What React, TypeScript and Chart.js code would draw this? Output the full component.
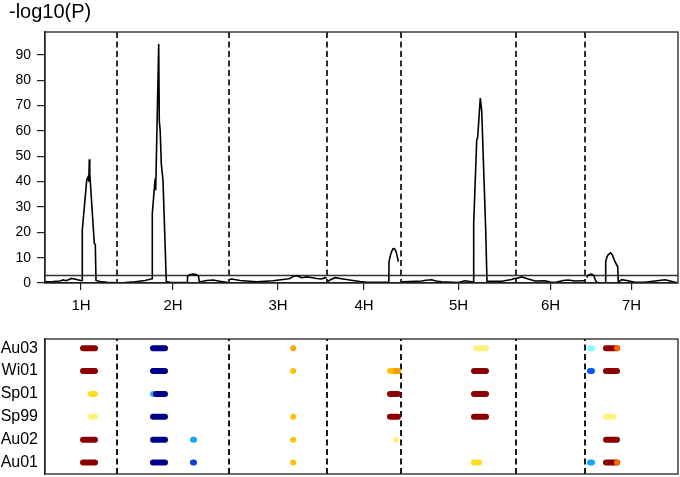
import React, { useEffect, useRef } from "react";
import { Chart, registerables } from "chart.js";

Chart.register(...registerables);

// ---------- data ----------
const chromosomes = ["1H", "2H", "3H", "4H", "5H", "6H", "7H"];
const chrLengths = [72, 112, 98, 74, 115, 69, 93];
const yTicks = [0, 10, 20, 30, 40, 50, 60, 70, 80, 90];
const yMax = 99;
const threshold = 3;
const yTitle = "-log10(P)";

// cumulative position, -log10(P)
const chr1H: [number, number][] = [
  [0, 0.5], [8, 0.6], [15, 0.8], [18.3, 1.2], [21, 0.9], [26.7, 1.8], [31.7, 1.4], [36.5, 0.9],
  [37.0, 1.0], [37.3, 20.9], [41.7, 40.5], [43.3, 42], [43.8, 40], [44.3, 48.8], [44.8, 43],
  [49.3, 15.7], [50.3, 15.2], [51, 1.0], [55, 0.6], [62, 0.3], [71.7, 0.1],
];
const chr2H: [number, number][] = [
  [72, 0.1], [80, 0.2], [90, 0.5], [100, 1.0], [106, 1.6], [107, 1.7], [107.3, 27.4],
  [109.7, 39.2], [110.7, 36.6], [113.7, 94.3], [114.3, 64], [115.2, 60], [116.3, 47], [118, 40.5],
  [121.3, 0.6], [125, 0.3], [132, 0.2], [142, 0.3], [142.5, 2.5], [144.5, 3.3], [148.3, 3.5],
  [151, 3.3], [153.5, 2.8], [154.3, 0.5], [158, 0.7], [161.7, 1.0], [168, 1.2], [175, 0.7],
  [181.7, 0.3], [184, 0.2],
];
const chr3H: [number, number][] = [
  [184.5, 1.4], [186.7, 1.6], [195, 1.0], [211.7, 0.5], [228, 0.9], [241.7, 1.6], [245, 1.8],
  [248, 2.6], [251.7, 2.9], [256.7, 2.1], [261.7, 2.4], [266, 2.2], [271.7, 1.8], [276.7, 1.6],
  [280, 2.1], [281.7, 2.0],
];
const chr4H: [number, number][] = [
  [282.5, 0.5], [285, 1.2], [290, 2.1], [298, 1.6], [308, 1.0], [315, 0.6], [322, 0.3],
  [330, 0.3], [343.8, 0.3], [344, 8.4], [345.5, 11], [346.7, 12.5], [348, 13.5], [349.5, 13.6],
  [351, 12.5], [352.5, 10], [353.3, 8.4],
];
const chr5H: [number, number][] = [
  [357, 0.5], [365, 0.6], [376.7, 0.8], [381, 1.1], [386.7, 1.3], [391, 0.8], [396.7, 0.5],
  [413.3, 0.2], [420, 0.9], [426.7, 0.5], [428.5, 0.4], [428.7, 23.5], [431.7, 56.3],
  [432.7, 57.6], [435.3, 72.9], [436.7, 68], [440.7, 20.9], [442, 0.5], [443.3, 0.7],
  [456.7, 0.7], [466.7, 1.4], [469.3, 1.8], [471, 1.8],
];
const chr6H: [number, number][] = [
  [471, 1.8], [476.7, 2.4], [483.3, 1.6], [490, 0.8], [500, 0.9], [505, 0.4], [510, 0.2],
  [518.3, 1.0], [523.3, 1.2], [530, 0.8], [538.3, 0.9], [540, 0.9],
];
const chr7H: [number, number][] = [
  [541.7, 2.2], [543.5, 3.2], [546.7, 3.5], [549, 2.8], [550.5, 1.0], [551.7, 0.3], [555, 0.1],
  [560.5, 0.2], [560.7, 8.4], [562, 10.3], [563.3, 11.2], [565.7, 11.9], [567.5, 11],
  [570, 8.4], [572.7, 6.4], [573.3, 0.3], [576.7, 1.3], [581.7, 1.0], [590, 0.3], [600, 0.3],
  [610, 0.8], [620, 1.3], [628.3, 0.5], [632, 0.1],
];
const chrCurves = [chr1H, chr2H, chr3H, chr4H, chr5H, chr6H, chr7H];

// trait rows (top to bottom) and their QTL marks: [start, end, effect level]
const traits = ["Au03", "Wi01", "Sp01", "Sp99", "Au02", "Au01"];
const au03Marks: [number, number, string][] = [
  [38, 50, "darkred"], [108, 120, "navy"], [248.2, 248.8, "orange"], [431, 441, "paleyellow"],
  [545, 547, "cyan"], [561, 572, "darkred"], [572, 572.5, "redorange"],
];
const wi01Marks: [number, number, string][] = [
  [38, 50, "darkred"], [108, 120, "navy"], [248.2, 248.8, "gold"], [345, 353, "gold"],
  [351, 353, "amber"], [429, 441, "darkred"], [545, 547, "blue"], [561, 572, "darkred"],
];
const sp01Marks: [number, number, string][] = [
  [46, 50, "yellow"], [108, 108.5, "lightblue"], [111, 120, "navy"], [345, 353, "darkred"],
  [429, 441, "darkred"],
];
const sp99Marks: [number, number, string][] = [
  [46, 50, "paleyellow"], [108, 120, "navy"], [248.2, 248.8, "gold"], [345, 353, "darkred"],
  [429, 441, "darkred"], [561, 568, "paleyellow"],
];
const au02Marks: [number, number, string][] = [
  [38, 50, "darkred"], [108, 120, "navy"], [148, 149, "skyblue"], [248.2, 248.8, "gold"],
  [351.3, 351.8, "paleyellow"], [561, 572, "darkred"],
];
const au01Marks: [number, number, string][] = [
  [38, 50, "darkred"], [108, 120, "navy"], [148, 149, "royalblue"], [248.2, 248.8, "gold"],
  [429, 434, "yellow"], [545, 547, "skyblue"], [561, 572, "darkred"], [572, 572.5, "redorange"],
];
const traitMarks = [au03Marks, wi01Marks, sp01Marks, sp99Marks, au02Marks, au01Marks];

// ---------- styles ----------
const FONT = "'Liberation Sans', Arial, Helvetica, sans-serif";
const palette: Record<string, string> = {
  darkred: "#8b0000",
  redorange: "#ff6a00",
  amber: "#ff9a00",
  orange: "#ffa500",
  gold: "#ffc200",
  yellow: "#ffde1a",
  paleyellow: "#fff27a",
  cyan: "#80ffff",
  lightblue: "#2fa8ff",
  skyblue: "#12a6ff",
  blue: "#0a55ff",
  royalblue: "#0a3fe0",
  navy: "#00008b",
};

const boundaries: number[] = [];
const centers: number[] = [];
{
  let acc = 0;
  chrLengths.forEach((len, i) => {
    centers.push(acc + len / 2);
    acc += len;
    if (i < chrLengths.length - 1) boundaries.push(acc);
  });
}
const total = chrLengths.reduce((a, b) => a + b, 0);

const framePlugin = {
  id: "frame",
  afterDraw(chart: any) {
    const { ctx, chartArea } = chart;
    ctx.save();
    ctx.strokeStyle = "#222";
    ctx.lineWidth = 1.3;
    ctx.strokeRect(chartArea.left, chartArea.top, chartArea.right - chartArea.left, chartArea.bottom - chartArea.top);
    ctx.restore();
  },
};

const titlePlugin = {
  id: "ytitle",
  afterDraw(chart: any) {
    const { ctx } = chart;
    ctx.save();
    ctx.fillStyle = "#000";
    ctx.font = `20px ${FONT}`;
    ctx.textBaseline = "alphabetic";
    ctx.textAlign = "left";
    ctx.fillText(yTitle, 9, 18);
    ctx.restore();
  },
};

function dashedSets(y0: number, y1: number, width: number) {
  return boundaries.map((b) => ({
    type: "line" as const,
    data: [{ x: b, y: y1 }, { x: b, y: y0 }],
    borderColor: "#1a1a1a",
    borderWidth: width,
    borderDash: [6, 3.5],
    pointRadius: 0,
    order: 100,
  }));
}

export default function App() {
  const topRef = useRef<HTMLCanvasElement | null>(null);
  const botRef = useRef<HTMLCanvasElement | null>(null);

  useEffect(() => {
    const curve: { x: number; y: number | null }[] = [];
    chrCurves.forEach((c, i) => {
      if (i > 0) curve.push({ x: c[0][0] - 0.01, y: null });
      c.forEach(([x, y]) => curve.push({ x, y }));
    });

    const top = new Chart(topRef.current!, {
      type: "line",
      data: {
        datasets: [
          {
            data: curve as any,
            borderColor: "#000",
            borderWidth: 1.6,
            pointRadius: 0,
            spanGaps: false,
            tension: 0,
            order: 0,
          },
          {
            data: [{ x: 0, y: threshold }, { x: total, y: threshold }],
            borderColor: "#333",
            borderWidth: 1.5,
            pointRadius: 0,
            order: 1,
          },
          ...dashedSets(0, yMax, 1.8),
        ] as any,
      },
      options: {
        animation: false,
        responsive: false,
        devicePixelRatio: 1,
        layout: { padding: { top: 32, right: 2, bottom: 0, left: 0 } },
        plugins: { legend: { display: false }, tooltip: { enabled: false }, title: { display: false } },
        scales: {
          x: {
            type: "linear",
            min: 0,
            max: total,
            afterBuildTicks: (s: any) => {
              s.ticks = centers.map((v) => ({ value: v }));
            },
            afterFit: (s: any) => {
              s.height = 37;
            },
            ticks: {
              autoSkip: false,
              maxRotation: 0,
              padding: 7,
              color: "#000",
              font: { family: FONT, size: 15 },
              callback: (_v: any, i: number) => chromosomes[i],
            },
            grid: { drawOnChartArea: false, tickLength: 7, color: "#222", lineWidth: 1.2 },
            border: { color: "#222", width: 1.3 },
          },
          y: {
            type: "linear",
            min: 0,
            max: yMax,
            afterBuildTicks: (s: any) => {
              s.ticks = yTicks.map((v) => ({ value: v }));
            },
            afterFit: (s: any) => {
              s.width = 45;
            },
            ticks: { padding: 6, color: "#000", font: { family: FONT, size: 14 } },
            grid: { drawOnChartArea: false, tickLength: 8, color: "#222", lineWidth: 1.2 },
            border: { color: "#222", width: 1.3 },
          },
        },
      },
      plugins: [framePlugin, titlePlugin],
    });

    const markSets: any[] = [];
    let k = 0;
    traitMarks.forEach((marks, row) => {
      marks.forEach(([s, e, lvl]) => {
        markSets.push({
          type: "line",
          data: [{ x: s, y: row }, { x: e, y: row }],
          borderColor: palette[lvl],
          borderWidth: 6,
          borderCapStyle: "round",
          pointRadius: 0,
          order: 90 - k * 0.01,
        });
        k++;
      });
    });

    const bot = new Chart(botRef.current!, {
      type: "line",
      data: { datasets: [...dashedSets(-0.4, 5.5, 2), ...markSets] as any },
      options: {
        animation: false,
        responsive: false,
        devicePixelRatio: 1,
        layout: { padding: { top: 19, right: 2, bottom: 3, left: 0 } },
        plugins: { legend: { display: false }, tooltip: { enabled: false } },
        scales: {
          x: { type: "linear", min: 0, max: total, display: false },
          y: {
            type: "linear",
            reverse: true,
            min: -0.4,
            max: 5.5,
            afterBuildTicks: (s: any) => {
              s.ticks = traits.map((_t, i) => ({ value: i }));
            },
            afterFit: (s: any) => {
              s.width = 45;
              s.paddingTop = 0;
              s.paddingBottom = 0;
            },
            ticks: {
              padding: 7,
              color: "#000",
              font: { family: FONT, size: 16 },
              callback: (v: any) => traits[Math.round(Number(v))],
            },
            grid: { drawOnChartArea: false, drawTicks: false },
            border: { color: "#222", width: 1.3 },
          },
        },
      },
      plugins: [framePlugin],
    });

    return () => {
      top.destroy();
      bot.destroy();
    };
  }, []);

  return (
    <div style={{ position: "absolute", left: 0, top: 0, width: 680, height: 477, background: "#fff" }}>
      <canvas ref={topRef} width={680} height={320} style={{ position: "absolute", left: 0, top: 0 }} />
      <canvas ref={botRef} width={680} height={157} style={{ position: "absolute", left: 0, top: 320 }} />
    </div>
  );
}
